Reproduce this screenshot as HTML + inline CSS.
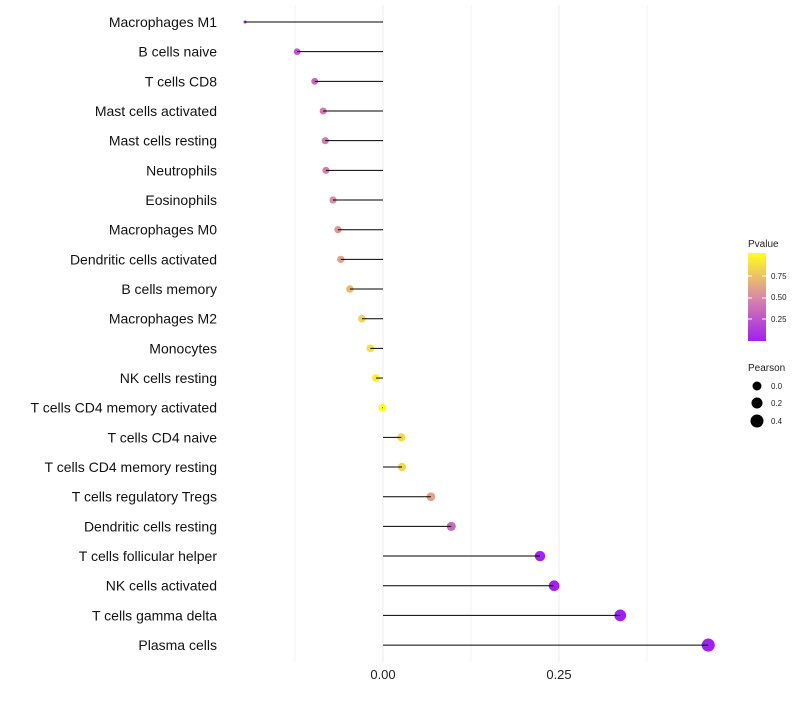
<!DOCTYPE html>
<html><head><meta charset="utf-8"><style>
body{margin:0;background:#fff;font-family:"Liberation Sans",sans-serif}
</style></head><body>
<svg id="c" width="800" height="700" xmlns="http://www.w3.org/2000/svg">
<defs><linearGradient id="pg" x1="0" y1="1" x2="0" y2="0">
<stop offset="0" stop-color="#a020f0"/><stop offset="0.5" stop-color="#d98aa4"/><stop offset="1" stop-color="#ffff20"/></linearGradient></defs>
<g id="grid"></g><g id="dots"></g><g id="marks"></g><g id="labels"></g>
<g>
<text x="748" y="247" font-size="10" fill="#222">Pvalue</text>
<rect x="748" y="253" width="18" height="88" fill="url(#pg)"/>
<line x1="748" y1="276" x2="752" y2="276" stroke="#fff"/><line x1="762" y1="276" x2="766" y2="276" stroke="#fff"/>
<line x1="748" y1="298" x2="752" y2="298" stroke="#fff"/><line x1="762" y1="298" x2="766" y2="298" stroke="#fff"/>
<line x1="748" y1="319" x2="752" y2="319" stroke="#fff"/><line x1="762" y1="319" x2="766" y2="319" stroke="#fff"/>
<text x="771" y="279" font-size="8" fill="#222">0.75</text>
<text x="771" y="300" font-size="8" fill="#222">0.50</text>
<text x="771" y="322" font-size="8" fill="#222">0.25</text>
</g>
<g>
<text x="748" y="371" font-size="10" fill="#222">Pearson</text>
<circle cx="757" cy="386" r="4.5"/><text x="771" y="389" font-size="8" fill="#222">0.0</text>
<circle cx="757" cy="403" r="5.5"/><text x="771" y="406" font-size="8" fill="#222">0.2</text>
<circle cx="757" cy="421" r="6.5"/><text x="771" y="424" font-size="8" fill="#222">0.4</text>
</g>
</svg>
<script>
const categories=["Macrophages M1","B cells naive","T cells CD8","Mast cells activated","Mast cells resting","Neutrophils","Eosinophils","Macrophages M0","Dendritic cells activated","B cells memory","Macrophages M2","Monocytes","NK cells resting","T cells CD4 memory activated","T cells CD4 naive","T cells CD4 memory resting","T cells regulatory  Tregs","Dendritic cells resting","T cells follicular helper","NK cells activated","T cells gamma delta","Plasma cells"];
const pearson=[-0.196,-0.122,-0.097,-0.085,-0.082,-0.081,-0.071,-0.064,-0.060,-0.047,-0.030,-0.018,-0.010,-0.001,0.026,0.027,0.068,0.097,0.223,0.243,0.337,0.462];
const pvalues=[0.01,0.25,0.35,0.42,0.43,0.45,0.5,0.56,0.6,0.7,0.82,0.87,0.93,0.99,0.83,0.83,0.6,0.35,0.02,0.01,0.001,0.0001];
const xTicks=[0,0.25];
const xTickLabels=["0.00","0.25"];
const NS="http://www.w3.org/2000/svg";
const x=v=>383+v*704;
const y=i=>22+i*29.67;
const rad=v=>v<-0.13?Math.max(1.5,3.3+(v+0.13)*27):4+5.5*v;
function lerp(a,b,t){return a.map((c,k)=>Math.round(c+(b[k]-c)*t));}
function col(p){const s=[[160,32,240],[217,138,164],[255,255,32]];const c=p<0.5?lerp(s[0],s[1],p*2):lerp(s[1],s[2],(p-0.5)*2);return `rgb(${c.join(',')})`;}
function mk(t,a,parent){const e=document.createElementNS(NS,t);for(const k in a)e.setAttribute(k,a[k]);parent.appendChild(e);return e;}
const grid=document.getElementById('grid'),marks=document.getElementById('marks'),dots=document.getElementById('dots'),labels=document.getElementById('labels');
[-0.125,0,0.125,0.25,0.375].forEach(v=>{const l=mk('line',{x1:x(v),x2:x(v),y1:5,y2:662,stroke:'#ebebeb','stroke-width':v%0.25===0?1:0.6},grid);

});
xTicks.forEach((v,i)=>{const t=mk('text',{x:x(v),y:679,'font-size':13,'text-anchor':'middle',fill:'#222'},labels);t.textContent=xTickLabels[i];

});
categories.forEach((c,i)=>{
const t=mk('text',{x:217,y:y(i)+5,'font-size':14,'text-anchor':'end',fill:'#111'},labels);t.textContent=c;


const d=mk('circle',{cx:x(pearson[i]),cy:y(i),r:rad(pearson[i]),fill:col(pvalues[i])},dots);


const l=mk('line',{x1:x(0),x2:x(pearson[i]),y1:y(i),y2:y(i),stroke:'#000','stroke-width':1},marks);


});
</script>
</body></html>
